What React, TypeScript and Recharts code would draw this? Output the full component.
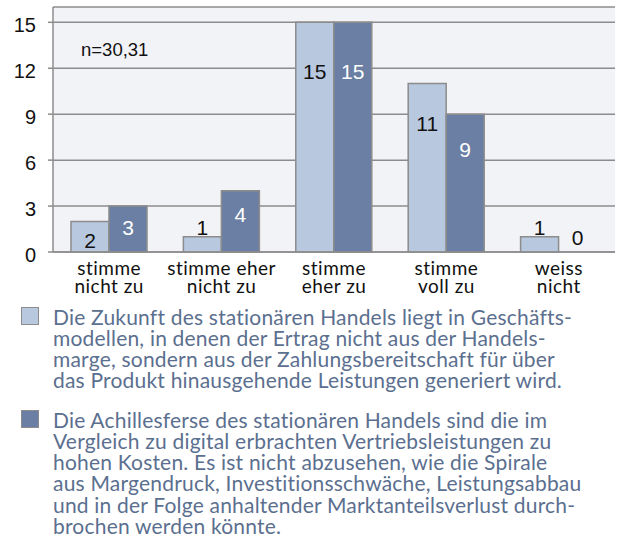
import { BarChart, Bar, XAxis, YAxis, CartesianGrid, LabelList, Rectangle } from "recharts";

/* ---------- data ---------- */
const categories = [
  "stimme\nnicht zu",
  "stimme eher\nnicht zu",
  "stimme\neher zu",
  "stimme\nvoll zu",
  "weiss\nnicht",
];
const zukunft = [2, 1, 15, 11, 1];
const achilles = [3, 4, 15, 9, 0];
const yTicks = [0, 3, 6, 9, 12, 15];
const sampleNote = "n=30,31";

const legendZukunft = [
  "Die Zukunft des stationären Handels liegt in Geschäfts-",
  "modellen, in denen der Ertrag nicht aus der Handels-",
  "marge, sondern aus der Zahlungsbereitschaft für über",
  "das Produkt hinausgehende Leistungen generiert wird.",
];
const legendAchilles = [
  "Die Achillesferse des stationären Handels sind die im",
  "Vergleich zu digital erbrachten Vertriebsleistungen zu",
  "hohen Kosten. Es ist nicht abzusehen, wie die Spirale",
  "aus Margendruck, Investitionsschwäche, Leistungsabbau",
  "und in der Folge anhaltender Marktanteilsverlust durch-",
  "brochen werden könnte.",
];

/* ---------- styles ---------- */
const COLORS = {
  light: "#b8c8df",
  dark: "#6a7fa3",
  edge: "#8c8c8c",
  plotBg: "#f2f3f7",
  legendText: "#5b6f8f",
};
const ARIAL = "'Liberation Sans', Arial, sans-serif";
const CALIBRI = "Lato, 'Open Sans', sans-serif";

const data = categories.map((name, i) => ({
  name,
  zukunft: zukunft[i],
  achilles: achilles[i],
}));

function YTick(props: any) {
  const { x, y, payload } = props;
  return (
    <text x={x} y={y} dy={10} textAnchor="end" fontFamily={ARIAL} fontSize={20} fill="#111">
      {payload.value}
    </text>
  );
}

function XTick(props: any) {
  const { x, y, payload } = props;
  const lines = String(payload.value).split("\n");
  return (
    <text textAnchor="middle" fontFamily={CALIBRI} fontSize={19} letterSpacing={0.5} fill="#111">
      {lines.map((l, i) => (
        <tspan key={i} x={x} y={y + 23 + i * 18}>
          {l}
        </tspan>
      ))}
    </text>
  );
}

// zero values keep a 1px rect (minPointSize) so the label still gets drawn; hide that rect
function BarShape(props: any) {
  if (props.value === 0 || (Array.isArray(props.value) && props.value[1] === props.value[0])) return <g />;
  return <Rectangle {...props} />;
}

function makeValueLabel(insideColor: string) {
  return (props: any) => {
    const { x, y, width, height, value } = props;
    const cx = x + width / 2;
    let cy: number;
    let fill = insideColor;
    if (Number(value) === 0) {
      cy = y + height - 15;
      fill = "#111";
    } else if (height < 20) {
      cy = y - 9;
      fill = "#111";
    } else {
      cy = y + 15 + height * 0.15;
    }
    return (
      <text x={cx} y={cy} dy={7.5} textAnchor="middle" fontFamily={ARIAL} fontSize={21} fill={fill}>
        {value}
      </text>
    );
  };
}

function LegendItem({ color, lines, top }: { color: string; lines: string[]; top: number }) {
  return (
    <div style={{ position: "absolute", left: 0, top, width: 623 }}>
      <div
        style={{
          position: "absolute",
          left: 21,
          top: 1,
          width: 16,
          height: 16,
          background: color,
          border: `1.5px solid ${COLORS.edge}`,
        }}
      />
      <div
        style={{
          position: "absolute",
          left: 53,
          top: 0,
          fontFamily: CALIBRI,
          fontSize: 21,
          letterSpacing: 0.2,
          lineHeight: "21.3px",
          color: COLORS.legendText,
          whiteSpace: "nowrap",
        }}
      >
        {lines.map((l, i) => (
          <div key={i}>{l}</div>
        ))}
      </div>
    </div>
  );
}

export default function App() {
  return (
    <div style={{ position: "absolute", left: 0, top: 0, width: 623, height: 552, background: "#fff" }}>
      <BarChart
        width={623}
        height={300}
        data={data}
        margin={{ top: 7, right: 8, left: 0, bottom: 0 }}
        barCategoryGap="16%"
        barGap={0}
      >
        <CartesianGrid vertical={false} stroke={COLORS.edge} strokeWidth={1.5} fill={COLORS.plotBg} />
        <XAxis
          dataKey="name"
          height={48}
          tickLine={false}
          tickSize={0}
          tickMargin={0}
          axisLine={{ stroke: COLORS.edge, strokeWidth: 1.5 }}
          tick={<XTick />}
          interval={0}
        />
        <YAxis
          width={53}
          domain={[0, 16]}
          ticks={yTicks}
          tickSize={5}
          tickMargin={12}
          tickLine={{ stroke: COLORS.edge, strokeWidth: 1.5 }}
          axisLine={{ stroke: COLORS.edge, strokeWidth: 1.5 }}
          tick={<YTick />}
        />
        <Bar dataKey="zukunft" fill={COLORS.light} stroke={COLORS.edge} strokeWidth={1.5} isAnimationActive={false}>
          <LabelList dataKey="zukunft" content={makeValueLabel("#111")} />
        </Bar>
        <Bar
          dataKey="achilles"
          fill={COLORS.dark}
          stroke={COLORS.edge}
          strokeWidth={1.5}
          minPointSize={1}
          shape={<BarShape />}
          isAnimationActive={false}
        >
          <LabelList dataKey="achilles" content={makeValueLabel("#fff")} />
        </Bar>
      </BarChart>

      <div
        style={{
          position: "absolute",
          left: 81,
          top: 40.8,
          fontFamily: ARIAL,
          fontSize: 18.5,
          lineHeight: "18.5px",
          color: "#111",
        }}
      >
        {sampleNote}
      </div>

      <LegendItem color={COLORS.light} lines={legendZukunft} top={305.5} />
      <LegendItem color={COLORS.dark} lines={legendAchilles} top={408.5} />
    </div>
  );
}
